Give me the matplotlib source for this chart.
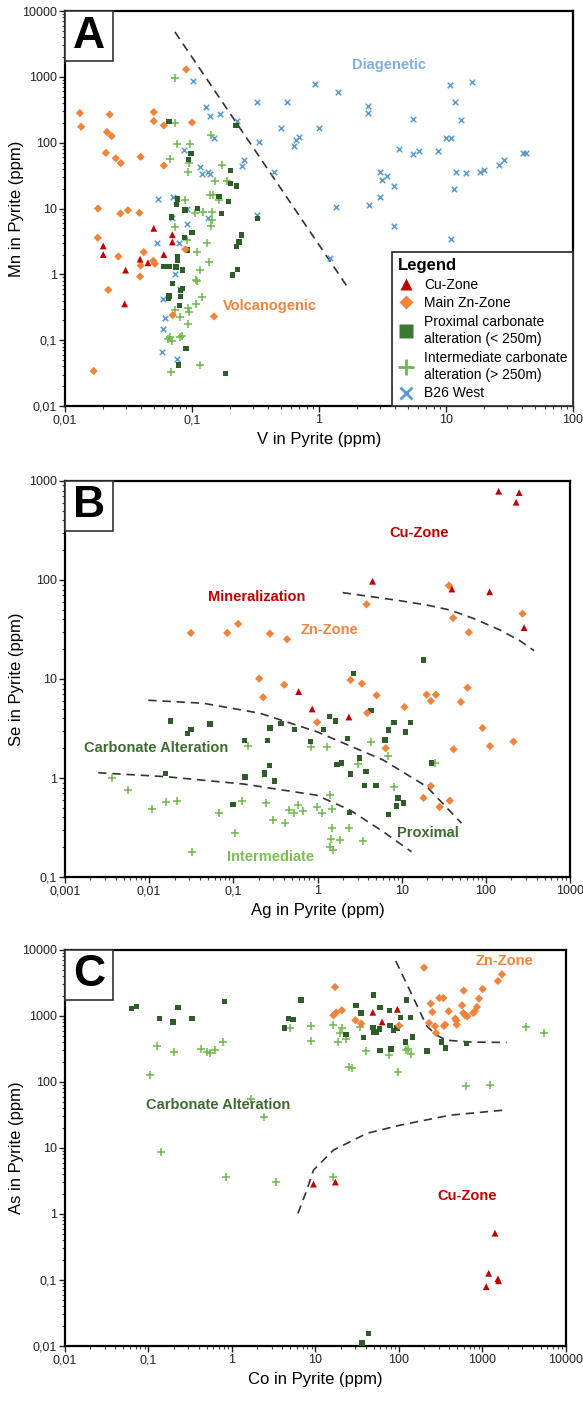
import matplotlib
matplotlib.use("Agg")
import numpy as np
import matplotlib.pyplot as plt
from matplotlib.lines import Line2D
from matplotlib.patches import Rectangle
from matplotlib.ticker import FixedLocator, FuncFormatter, NullFormatter

plt.rcParams['font.family'] = ['Liberation Sans', 'DejaVu Sans']

# --- colours ---
RED = '#C00000'
ORANGE = '#F0843C'
DKGREEN = '#2F5D2A'
LTGREEN = '#6DB84A'
BLUE = '#5B9BD5'

# ---------------- Panel A : V vs Mn ----------------
a_cu_v = [0.050, 0.070, 0.070, 0.020, 0.020, 0.039, 0.045, 0.060, 0.030, 0.0295]
a_cu_mn = [5.0, 4.0, 3.1, 2.7, 2.0, 1.7, 1.5, 2.0, 1.16, 0.355]

a_zn_v = [0.090, 0.0131, 0.0225, 0.050, 0.0134, 0.050, 0.060, 0.100, 0.0214, 0.0233,
          0.021, 0.0251, 0.0275, 0.0394, 0.060, 0.0182, 0.0273, 0.0313, 0.0385, 0.0181,
          0.0263, 0.0417, 0.0394, 0.039, 0.0496, 0.051, 0.0219, 0.0886, 0.0705, 0.149,
          0.0168]
a_zn_mn = [1300, 282, 268, 292, 175, 213, 183, 203, 145, 126,
           70, 58, 49, 61, 45, 10, 8.4, 9.4, 8.6, 3.6,
           1.87, 2.18, 1.36, 0.93, 1.61, 1.45, 0.58, 2.4, 0.24, 0.23,
           0.034]

a_prox_v = [0.0659, 0.222, 0.098, 0.0935, 0.202, 0.202, 0.224, 0.0771, 0.163, 0.0758,
            0.193, 0.110, 0.088, 0.170, 0.0687, 0.329, 0.0869, 0.100, 0.246, 0.235,
            0.224, 0.0923, 0.0771, 0.0771, 0.0603, 0.0659, 0.0748, 0.0839, 0.228, 0.209,
            0.0705, 0.0839, 0.081, 0.066, 0.065, 0.0813, 0.0794, 0.0898, 0.0782, 0.183]
a_prox_mn = [208, 183, 68, 55, 38, 24, 22, 14, 15.4, 11.5,
             12.9, 10.1, 9.5, 8.4, 7.4, 7.1, 3.67, 4.28, 3.94, 3.1,
             2.65, 2.33, 1.83, 1.65, 1.32, 1.32, 1.29, 1.16, 1.19, 0.975,
             0.72, 0.61, 0.57, 0.47, 0.43, 0.465, 0.336, 0.074, 0.042, 0.031]

a_int_v = [0.0734, 0.0734, 0.0762, 0.097, 0.141, 0.067, 0.0955, 0.0923, 0.172, 0.152,
           0.188, 0.088, 0.139, 0.147, 0.164, 0.106, 0.123, 0.143, 0.143, 0.0734,
           0.141, 0.0908, 0.131, 0.109, 0.136, 0.115, 0.108, 0.110, 0.119, 0.107,
           0.0734, 0.0923, 0.095, 0.081, 0.0923, 0.067, 0.065, 0.070, 0.080, 0.084,
           0.068, 0.116]
a_int_mn = [955, 199, 97, 97, 132, 57, 49, 35.5, 46, 26.5,
            26, 13.7, 16.3, 16.3, 13.7, 8.6, 8.8, 8.8, 6.8, 5.2,
            5.4, 3.31, 3.02, 2.21, 1.56, 1.18, 0.81, 0.78, 0.45, 0.36,
            0.29, 0.31, 0.27, 0.225, 0.175, 0.112, 0.104, 0.098, 0.113, 0.115,
            0.033, 0.042]

a_b26_v = [0.101, 0.128, 0.139, 0.166, 0.228, 0.325, 0.56, 0.925, 0.499, 1.0,
           0.70, 0.66, 0.63, 0.337, 0.149, 0.0869, 0.258, 0.247, 0.116, 0.119,
           0.134, 0.139, 0.44, 0.0543, 0.0705, 0.0692, 0.0908, 0.325, 0.0908, 0.134,
           0.053, 0.0795, 0.0734, 0.081, 0.0594, 0.0616, 0.0594, 0.0577, 0.0765,
           1.41, 2.42, 2.42, 5.47, 10.8, 16.0, 11.8, 13.1, 9.95, 10.9,
           4.29, 5.53, 6.1, 8.65, 12.0, 14.3, 18.5, 19.9, 26.1, 28.6,
           40.6, 42.5, 3.04, 3.12, 3.4, 3.92, 3.04, 11.6, 1.35, 2.49,
           3.92, 11.0, 1.23]
a_b26_mn = [861, 343, 254, 269, 215, 414, 414, 783, 165, 165,
            124, 111, 88, 101, 118, 78, 55, 45, 43, 33.6,
            35.5, 33, 35.5, 14.2, 15.2, 7.2, 9.7, 8.0, 5.9, 7.2,
            3.02, 3.02, 1.03, 0.59, 0.42, 0.215, 0.148, 0.067, 0.052,
            593, 364, 278, 231, 764, 840, 414, 221, 118, 118,
            81, 68, 76, 76, 36, 34.5, 35.5, 39, 46, 55,
            70, 71, 35.5, 27.5, 30.8, 22.3, 15.0, 19.9, 10.5, 11.4,
            5.5, 3.39, 1.79]

a_line_v = [0.0734, 1.66]
a_line_mn = [4810, 0.66]

# ---------------- Panel B : Ag vs Se ----------------
b_cu_ag = [142, 249, 229, 4.51, 39.5, 111, 285, 0.865, 2.36, 0.597]
b_cu_se = [787, 762, 610, 97, 81, 76, 33, 4.98, 4.13, 7.45]

b_zn_ag = [0.0313, 0.0847, 0.114, 0.272, 0.434, 36.4, 3.83, 40.9, 62.8, 273,
           2.47, 3.37, 5.03, 19.8, 22.2, 25.5, 60.6, 50.5, 10.8, 3.89,
           0.99, 91.4, 112, 213, 41.3, 6.46, 22.2, 18.2, 28.2, 37.3,
           0.203, 0.402, 0.226]
b_zn_se = [29.2, 29.2, 36, 28.7, 25.2, 87.8, 56.8, 41.3, 29.6, 45.7,
           9.77, 8.97, 6.84, 6.94, 6.0, 6.94, 8.17, 5.86, 5.21, 4.54,
           3.65, 3.2, 2.1, 2.33, 1.95, 2.0, 0.83, 0.63, 0.51, 0.59,
           10.1, 8.75, 6.53]

b_prox_ag = [18.2, 2.66, 4.3, 1.40, 1.65, 8.07, 12.8, 6.98, 1.17, 11.1,
             2.26, 6.37, 0.82, 3.13, 1.70, 1.94, 22.6, 3.78, 2.47, 3.62,
             4.98, 9.02, 10.6, 8.7, 2.4, 6.92, 0.0178, 0.0313, 0.0284, 0.0527,
             0.135, 0.272, 0.255, 0.367, 0.535, 0.0157, 0.137, 0.267, 0.233, 0.235,
             0.31, 0.0988]
b_prox_se = [15.5, 11.3, 4.83, 4.16, 3.77, 3.65, 3.62, 3.06, 3.1, 2.92,
             2.49, 2.42, 2.33, 1.59, 1.36, 1.42, 1.42, 1.16, 1.10, 0.84,
             0.84, 0.63, 0.56, 0.52, 0.446, 0.43, 3.77, 3.1, 2.8, 3.5,
             2.38, 3.2, 2.38, 3.53, 3.07, 1.11, 1.02, 1.34, 1.14, 1.09,
             0.93, 0.54]

b_int_ag = [0.84, 1.30, 4.34, 6.86, 3.04, 24.8, 8.0, 1.40, 0.67, 0.975,
            1.12, 1.50, 1.50, 2.34, 1.43, 1.83, 3.46, 1.40, 1.54, 0.00365,
            0.0056, 0.0107, 0.0157, 0.0214, 0.068, 0.127, 0.242, 0.104, 0.295, 0.413,
            0.461, 0.525, 0.59, 0.032, 0.150]
b_int_se = [2.04, 2.04, 2.3, 1.67, 1.38, 1.43, 0.82, 0.68, 0.46, 0.51,
            0.446, 0.49, 0.31, 0.31, 0.24, 0.235, 0.23, 0.2, 0.187, 1.0,
            0.75, 0.49, 0.57, 0.59, 0.446, 0.58, 0.56, 0.28, 0.377, 0.35,
            0.475, 0.44, 0.53, 0.18, 2.1]

b_line1_ag = [1.99, 3.83, 9.5, 19.8, 37.3, 70.6, 147, 253, 375]
b_line1_se = [74.5, 68.9, 61.8, 55.9, 49.8, 41.0, 31.3, 24.4, 19.3]
b_line2_ag = [0.00976, 0.044, 0.207, 0.975, 6.03, 19.8, 51.4]
b_line2_se = [6.1, 5.69, 4.51, 2.94, 1.52, 0.82, 0.35]
b_line3_ag = [0.00248, 0.0161, 0.131, 0.975, 2.43, 6.03, 13.1]
b_line3_se = [1.13, 1.03, 0.87, 0.67, 0.475, 0.287, 0.18]

# ---------------- Panel C : Co vs As ----------------
c_cu_co = [9.46, 17.3, 1413, 1186, 1531, 1560, 1110, 48.6, 95.7, 62.8]
c_cu_as = [2.83, 3.04, 0.51, 0.126, 0.104, 0.097, 0.079, 1133, 1259, 809]

c_zn_co = [199.6, 17.1, 20.7, 16.4, 17.7, 30.1, 35.3, 100, 240, 251,
           304, 340, 229, 270, 278, 346, 356, 394, 473, 491,
           487, 569, 596, 590, 618, 658, 776, 807, 860, 908,
           1005, 1531, 1710]
c_zn_as = [5382, 2736, 1217, 1021, 1122, 858, 764, 713, 1535, 1146,
           1866, 1866, 781, 697, 551, 703, 738, 1174, 910, 738,
           849, 1445, 2416, 1106, 1021, 986, 1106, 1174, 1364, 1827,
           2552, 3373, 4256]

c_prox_co = [0.0624, 0.0716, 0.226, 0.135, 0.197, 0.333, 0.815, 4.23, 4.76, 5.4,
             6.68, 43.5, 35.9, 49.4, 30.7, 34.9, 59.4, 76.8, 122, 105,
             137, 48.6, 54.2, 58.3, 50.3, 78.3, 85.8, 94.9, 23.3, 37.9,
             120, 145, 59.4, 80.5, 217, 325, 363, 647]
c_prox_as = [1303, 1396, 1349, 910, 809, 910, 1664, 656, 910, 889,
             1738, 0.0154, 0.0111, 2070, 1432, 1106, 1349, 1202, 1738, 952,
             942, 665, 559, 634, 571, 721, 605, 656, 527, 470,
             403, 480, 298, 316, 294, 403, 327, 381]

c_int_co = [0.125, 0.2, 0.103, 0.42, 0.507, 0.54, 0.62, 0.79, 4.98, 8.95,
            8.95, 1.70, 2.39, 0.14, 0.847, 3.41, 16.0, 16.0, 21.0, 19.4,
            18.8, 23.3, 34.3, 40.7, 75.5, 99.6, 122, 129, 138, 25.5,
            27.5, 97.5, 635, 1230, 3311, 5483]
c_int_as = [347, 279, 126, 320, 279, 272, 309, 403, 656, 703,
            423, 56, 29.5, 8.55, 3.58, 3.0, 3.66, 721, 656, 559,
            403, 454, 673, 298, 253, 703, 302, 320, 269, 169,
            165, 140, 87, 89, 673, 551]

c_line1_co = [91.6, 140, 215, 283, 373, 708, 1946]
c_line1_as = [6770, 2199, 703, 508, 428, 403, 395]
c_line2_co = [6.17, 7.88, 9.46, 16.4, 41.2, 103, 408, 1774]
c_line2_as = [1.02, 2.3, 4.61, 9.27, 16.6, 22.1, 31.3, 37.3]


def fmt_tick(v, pos):
    # decimal comma, as in the original figure
    if v >= 1:
        return "%d" % round(v)
    return ("%g" % v).replace('.', ',')


def log_ticks(lo, hi):
    # decades and 2..9 sub-ticks, only inside the axis range
    e0, e1 = int(round(np.log10(lo))), int(round(np.log10(hi)))
    major = [10.0 ** e for e in range(e0, e1 + 1)]
    minor = [m * 10.0 ** e for e in range(e0, e1) for m in range(2, 10)]
    return major, minor


def style_axes(ax, xlim, ylim, xlabel, ylabel):
    ax.set_xscale('log')
    ax.set_yscale('log')
    ax.set_xlim(xlim)
    ax.set_ylim(ylim)
    for axis, lim in ((ax.xaxis, xlim), (ax.yaxis, ylim)):
        major, minor = log_ticks(*lim)
        axis.set_major_locator(FixedLocator(major))
        axis.set_minor_locator(FixedLocator(minor))
        axis.set_major_formatter(FuncFormatter(fmt_tick))
        axis.set_minor_formatter(NullFormatter())
    ax.tick_params(which='major', direction='out', length=4, width=1, labelsize=9,
                   pad=2, colors='#222222')
    ax.tick_params(which='minor', direction='out', length=2.5, width=0.8, colors='#444444')
    for s in ax.spines.values():
        s.set_linewidth(1.6)
        s.set_color('black')
    ax.set_xlabel(xlabel, fontsize=12, labelpad=4)
    ax.set_ylabel(ylabel, fontsize=12)
    # put the y label where the original has it (about 17 px from the left edge)
    w_px = ax.get_position().width * ax.figure.bbox.width
    ax.yaxis.set_label_coords(-41 / w_px, 0.5)


def panel_letter(ax, letter):
    fig = ax.figure
    pos = ax.get_position()
    w = 48 / (pos.width * fig.bbox.width)
    h = 50 / (pos.height * fig.bbox.height)
    ax.add_patch(Rectangle((0, 1 - h), w, h, transform=ax.transAxes, facecolor='white',
                           edgecolor='#333333', lw=1.2, zorder=5, clip_on=False))
    ax.text(w / 2, 1 - h / 2, letter, transform=ax.transAxes, ha='center', va='center',
            fontsize=32, fontweight='bold', zorder=6)


def draw_groups(ax, cu, zn, prox, inter, b26=None):
    if b26 is not None:
        ax.scatter(b26[0], b26[1], marker='x', s=16, color=BLUE, linewidths=1.1, zorder=3)
    ax.scatter(inter[0], inter[1], marker='+', s=40, color=LTGREEN, linewidths=1.1, zorder=3)
    ax.scatter(prox[0], prox[1], marker='s', s=15, color=DKGREEN, edgecolors='none', zorder=4)
    ax.scatter(zn[0], zn[1], marker='D', s=18, color=ORANGE, edgecolors='none', zorder=4)
    ax.scatter(cu[0], cu[1], marker='^', s=24, color=RED, edgecolors='none', zorder=5)


def dashed(ax, x, y):
    ax.plot(x, y, ls=(0, (5, 3.5)), color='#333333', lw=1.2, zorder=2)


fig = plt.figure(figsize=(5.83, 14.01), dpi=100)

# ---- A ----
axA = fig.add_axes([0.1115, 0.7102, 0.8714, 0.2819])
style_axes(axA, (0.01, 100), (0.01, 10000), 'V in Pyrite (ppm)', 'Mn in Pyrite (ppm)')
dashed(axA, a_line_v, a_line_mn)
draw_groups(axA, (a_cu_v, a_cu_mn), (a_zn_v, a_zn_mn), (a_prox_v, a_prox_mn),
            (a_int_v, a_int_mn), (a_b26_v, a_b26_mn))
axA.text(3.56, 1520, 'Diagenetic', color='#7FAEDF', fontsize=10.5, fontweight='bold',
         ha='center', va='center')
axA.text(0.175, 0.327, 'Volcanogenic', color=ORANGE, fontsize=10.5, fontweight='bold',
         ha='left', va='center')
panel_letter(axA, 'A')

handles = [
    Line2D([], [], ls='none', marker='^', ms=8, color=RED, mec='none'),
    Line2D([], [], ls='none', marker='D', ms=7.5, color=ORANGE, mec='none'),
    Line2D([], [], ls='none', marker='s', ms=10, color='#3A7A30', mec='none'),
    Line2D([], [], ls='none', marker='+', ms=11, color=LTGREEN, mew=2),
    Line2D([], [], ls='none', marker='x', ms=8, color=BLUE, mew=2),
]
labels = ['Cu-Zone', 'Main Zn-Zone', 'Proximal carbonate\nalteration (< 250m)',
          'Intermediate carbonate\nalteration (> 250m)', 'B26 West']
leg = axA.legend(handles, labels, loc='lower right', borderaxespad=0, frameon=True,
                 fancybox=False, edgecolor='#333333', framealpha=1, fontsize=10,
                 title='Legend', title_fontproperties={'weight': 'bold', 'size': 12},
                 alignment='left', handlelength=1.2, handletextpad=0.7,
                 labelspacing=0.33, borderpad=0.4)
for t in leg.get_texts():
    t.set_linespacing(1.3)
leg.get_frame().set_linewidth(1.3)
leg.set_zorder(10)

# ---- B ----
axB = fig.add_axes([0.1115, 0.3740, 0.8662, 0.2827])
style_axes(axB, (0.001, 1000), (0.1, 1000), 'Ag in Pyrite (ppm)', 'Se in Pyrite (ppm)')
dashed(axB, b_line1_ag, b_line1_se)
dashed(axB, b_line2_ag, b_line2_se)
dashed(axB, b_line3_ag, b_line3_se)
draw_groups(axB, (b_cu_ag, b_cu_se), (b_zn_ag, b_zn_se), (b_prox_ag, b_prox_se),
            (b_int_ag, b_int_se))
axB.text(16, 298, 'Cu-Zone', color=RED, fontsize=10.5, fontweight='bold', ha='center', va='center')
axB.text(0.19, 67.3, 'Mineralization', color=RED, fontsize=10.5, fontweight='bold', ha='center', va='center')
axB.text(1.40, 31.3, 'Zn-Zone', color=ORANGE, fontsize=10.5, fontweight='bold', ha='center', va='center')
axB.text(0.012, 2.01, 'Carbonate Alteration', color='#3E6B32', fontsize=10.5, fontweight='bold',
         ha='center', va='center')
axB.text(0.28, 0.159, 'Intermediate', color='#7CBF55', fontsize=10.5, fontweight='bold',
         ha='center', va='center')
axB.text(20.5, 0.278, 'Proximal', color='#3E6B32', fontsize=10.5, fontweight='bold',
         ha='center', va='center')
panel_letter(axB, 'B')

# ---- C ----
axC = fig.add_axes([0.1115, 0.0393, 0.8593, 0.2827])
style_axes(axC, (0.01, 10000), (0.01, 10000), 'Co in Pyrite (ppm)', 'As in Pyrite (ppm)')
dashed(axC, c_line1_co, c_line1_as)
dashed(axC, c_line2_co, c_line2_as)
draw_groups(axC, (c_cu_co, c_cu_as), (c_zn_co, c_zn_as), (c_prox_co, c_prox_as),
            (c_int_co, c_int_as))
axC.text(1858, 6697, 'Zn-Zone', color=ORANGE, fontsize=10.5, fontweight='bold', ha='center', va='center')
axC.text(0.686, 44.4, 'Carbonate Alteration', color='#3E6B32', fontsize=10.5, fontweight='bold',
         ha='center', va='center')
axC.text(653, 1.87, 'Cu-Zone', color=RED, fontsize=10.5, fontweight='bold', ha='center', va='center')
panel_letter(axC, 'C')

fig.savefig('out.png', dpi=100)
